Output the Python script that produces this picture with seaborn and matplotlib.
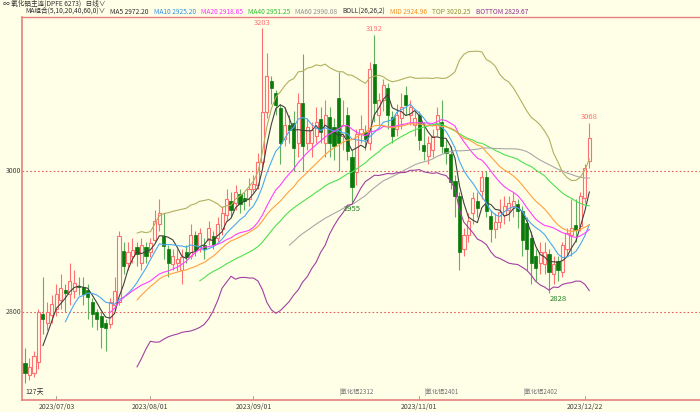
import numpy as np
import pandas as pd
import matplotlib
matplotlib.use("Agg")
import matplotlib.pyplot as plt
import seaborn as sns

opens = [2728,2712,2714,2730,2798,2785,2796,2805,2818,2832,2826,2830,2838,2836,2832,2815,2800,2795,2785,2784,
         2810,2815,2887,2870,2880,2893,2870,2892,2885,2903,2925,2908,2890,2868,2870,2860,2885,2880,2910,2890,
         2895,2902,2908,2905,2918,2938,2958,2955,2968,2962,2960,2975,2980,3013,3083,3128,3110,3089,3045,3065,
         3068,3040,3097,3040,3040,3050,3073,3040,3076,3062,3104,3050,3080,3020,2998,3052,3055,3040,3151,3080,
         3100,3118,3076,3060,3075,3107,3080,3065,3079,3037,3022,3030,3060,3070,3033,3024,2986,2964,2890,2910,
         2940,2958,2972,2992,2937,2918,2928,2938,2945,2950,2954,2944,2926,2905,2880,2870,2868,2882,2854,2872,
         2857,2890,2910,2924,2922,2962,3014]
closes = [2714,2722,2738,2800,2790,2800,2812,2826,2835,2828,2845,2842,2836,2826,2822,2797,2790,2780,2778,2814,
          2830,2908,2866,2885,2888,2882,2895,2880,2898,2929,2940,2894,2870,2880,2876,2878,2878,2910,2888,2912,
          2890,2920,2896,2925,2940,2960,2945,2970,2954,2958,2975,2982,3013,3083,3135,3118,3093,3040,3065,3058,
          3033,3097,3035,3062,3058,3070,3055,3080,3040,3035,3040,3065,3028,2978,3052,3060,3045,3145,3096,3100,
          3122,3080,3050,3080,3090,3093,3090,3075,3044,3028,3040,3050,3080,3035,3026,2985,2965,2885,2910,2930,
          2962,2948,2992,2943,2918,2928,2942,2950,2955,2958,2944,2903,2889,2870,2863,2885,2885,2857,2868,2860,
          2896,2912,2920,2917,2964,3005,3047]
highs = [2750,2735,2745,2805,2850,2815,2825,2840,2855,2840,2870,2860,2850,2850,2840,2820,2805,2800,2790,2820,
         2850,2915,2900,2900,2905,2900,2905,2900,2905,2945,2960,2940,2895,2890,2890,2890,2895,2925,2915,2920,
         2905,2930,2915,2935,2950,2975,2970,2980,2975,2970,2990,2995,3025,3203,3167,3135,3115,3095,3090,3080,
         3085,3110,3165,3075,3070,3090,3090,3100,3090,3075,3140,3100,3090,3030,3060,3080,3065,3155,3192,3110,
         3130,3125,3085,3095,3110,3120,3100,3085,3085,3070,3050,3060,3090,3100,3045,3035,2995,2970,2920,2940,
         2970,2970,3000,3000,2945,2940,2960,2965,2965,2970,2960,2950,2935,2915,2890,2900,2900,2890,2880,2880,
         2900,2920,2960,2960,2970,3010,3068]
lows = [2700,2705,2708,2720,2770,2775,2785,2795,2805,2800,2810,2820,2825,2810,2790,2780,2775,2750,2745,2778,
        2805,2810,2855,2860,2870,2865,2860,2870,2878,2900,2915,2875,2850,2860,2858,2840,2870,2875,2880,2885,
        2875,2895,2890,2900,2910,2930,2935,2945,2940,2945,2950,2970,2975,3005,3075,3095,3080,3010,3035,3040,
        3000,3020,3000,3030,3020,3040,3040,3020,3020,3015,3000,3030,3015,2955,2980,3040,3030,3030,3070,3065,
        3085,3060,3040,3050,3060,3080,3065,3050,3030,3015,3010,3020,3050,3025,3010,2975,2935,2860,2880,2900,
        2925,2935,2960,2935,2900,2905,2920,2925,2930,2935,2920,2880,2860,2840,2845,2855,2855,2828,2840,2845,
        2850,2880,2880,2900,2915,2955,3005]

date_idx = [7, 28, 51, 88, 125]
date_labels = ["2023/07/03", "2023/08/01", "2023/09/01", "2023/11/01", "2023/12/22"]
contract_idx = [74, 93, 115]
contract_labels = ["氧化铝2312", "氧化铝2401", "氧化铝2402"]

BG = "#FFFFE8"
RED = "#FF7070"
GREEN = "#0A7A0A"
WICKG = "#60B060"

df = pd.DataFrame({"i": np.arange(len(closes)), "open": opens, "close": closes, "high": highs, "low": lows})
c = df["close"]
df["MA5"] = c.rolling(5).mean()
df["MA10"] = c.rolling(10).mean()
df["MA20"] = c.rolling(20).mean()
df["MA40"] = c.rolling(40).mean()
df["MA60"] = c.rolling(60).mean()
df["MID"] = c.rolling(26).mean()
sd = c.rolling(26).std(ddof=0)
df["TOP"] = df["MID"] + 2 * sd
df["BOTTOM"] = df["MID"] - 2 * sd

sns.set_theme(style="white")
plt.rcParams["font.family"] = ["Noto Sans CJK SC", "DejaVu Sans"]

fig = plt.figure(figsize=(7, 4.12), dpi=100, facecolor=BG)
ax = fig.add_axes([22/700, 12/412, 678/700, 383/412], facecolor=BG)

up = df["close"] >= df["open"]
dn = ~up
ax.vlines(df["i"][up], df["low"][up], df["high"][up], color=RED, lw=0.8, zorder=2)
ax.vlines(df["i"][dn], df["low"][dn], df["high"][dn], color=WICKG, lw=0.8, zorder=2)
ax.bar(df["i"][up], (df["close"] - df["open"])[up].clip(lower=1), bottom=df["open"][up], width=0.7,
       facecolor=BG, edgecolor=RED, lw=0.8, zorder=3)
ax.bar(df["i"][dn], (df["open"] - df["close"])[dn].clip(lower=1), bottom=df["close"][dn], width=0.7,
       facecolor=GREEN, edgecolor=GREEN, lw=0.5, zorder=3)

lines = [("MA5", "#404040"), ("MA10", "#4AA8F0"), ("MA20", "#FF40FF"), ("MA40", "#50E050"),
         ("MA60", "#A8A8A8"), ("MID", "#FFA040"), ("TOP", "#B0B060"), ("BOTTOM", "#A040A0")]
for name, col in lines:
    sns.lineplot(data=df, x="i", y=name, ax=ax, color=col, lw=0.8, zorder=4, legend=False)

ax.axhline(3000, color="#E06060", lw=0.8, ls=(0, (1.5, 2)), zorder=1)
ax.axhline(2800, color="#E06060", lw=0.8, ls=(0, (1.5, 2)), zorder=1)

def ann(i, val, txt, col, va):
    ax.text(i, val, txt, color=col, fontsize=5.5, ha="center", va=va, zorder=5)
ann(53, 3204, "3203", RED, "bottom")
ann(78, 3195, "3192", RED, "bottom")
ann(126, 3071, "3068", RED, "bottom")
ann(73, 2952, "2955", "#208020", "top")
ann(119, 2825, "2828", "#208020", "top")

ax.set_xlim(-0.67, 150.7)
ax.set_ylim(2676, 3218)
ax.set_xlabel("")
ax.set_ylabel("")
ax.set_yticks([])
ax.set_xticks([])
for s in ["top", "right"]:
    ax.spines[s].set_visible(False)
for s in ["left", "bottom"]:
    ax.spines[s].set_color("#E88080")
    ax.spines[s].set_linewidth(1.2)

for v in [3000, 2800]:
    ax.text(-0.9, v, str(v), fontsize=5, color="#404040", ha="right", va="center", clip_on=False)

for i, lab in zip(date_idx, date_labels):
    ax.text(i, 2672, lab, fontsize=5, color="#404040", ha="center", va="top", clip_on=False)
    ax.plot([i, i], [2676, 2681], color="#909090", lw=0.6)
for i, lab in zip(contract_idx, contract_labels):
    ax.text(i, 2682, "|" + lab, fontsize=4.5, color="#707070", ha="center", va="bottom")
ax.text(0, 2682, "127天", fontsize=5, color="#303030", ha="left", va="bottom")

fig.text(0.004, 1 - 4/412, "∞ 氧化铝主连(DPFE 6273)   日线∨", fontsize=4.8, color="#303030",
         ha="left", va="center")
fig.add_artist(plt.Line2D([22/700, 1], [395/412, 395/412], color="#E88080", lw=1))
hdr = [("MA组合(5,10,20,40,60,0)∨", "#303030"), ("MA5 2972.20", "#303030"), ("MA10 2925.20", "#3090E0"),
       ("MA20 2918.65", "#FF30FF"), ("MA40 2951.25", "#30C030"), ("MA60 2990.08", "#909090"),
       ("BOLL(26,26,2)", "#303030"), ("MID 2924.96", "#F09020"), ("TOP 3020.25", "#909030"),
       ("BOTTOM 2829.67", "#903090")]
fig.canvas.draw()
r = fig.canvas.get_renderer()
x = 25
for t, col in hdr:
    tt = fig.text(x/700, 1 - 11.5/412, t, fontsize=4.8, color=col, ha="left", va="center")
    w = tt.get_window_extent(renderer=r).width
    x += w + 5

fig.savefig("out.png", dpi=100, facecolor=BG)
